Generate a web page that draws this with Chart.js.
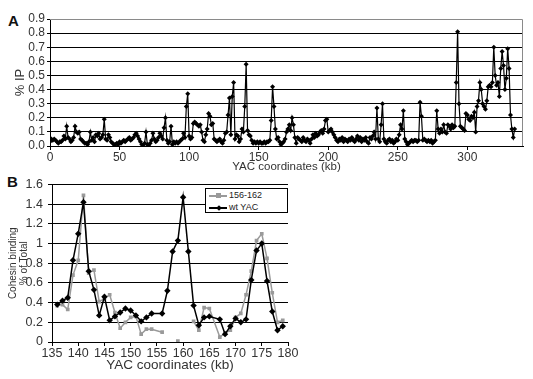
<!DOCTYPE html>
<html>
<head>
<meta charset="utf-8">
<script src="https://cdn.jsdelivr.net/npm/chart.js@4.4.0/dist/chart.umd.min.js"></script>
<style>
  body { margin: 0; background: #fff; width: 533px; height: 379px; position: relative; overflow: hidden; font-family: Arial, "Liberation Sans", sans-serif; }
  canvas { position: absolute; left: 0; }
  .tag { position: absolute; font-weight: bold; font-size: 15px; color: #111; line-height: 16px; }
  #legendB { position: absolute; left: 205px; top: 188px; width: 81px; height: 23px; border: 1px solid #000; background: #fff; font-size: 9px; color: #222; }
  #legendB .row { height: 11px; line-height: 11px; display: flex; align-items: center; margin-top: 1px; }
  #legendB .sample { position: relative; width: 18px; height: 11px; margin: 0 2px 0 3px; }
  #legendB .sample b { position: absolute; left: 0; right: 0; top: 5px; height: 1.5px; }
  #legendB .sample i { position: absolute; left: 7px; top: 3px; width: 5px; height: 5px; }
</style>
</head>
<body>
<div class="tag" style="left:8px;top:13px">A</div>
<div class="tag" style="left:7px;top:174px">B</div>
<canvas id="chartA" width="533" height="175" style="top:0"></canvas>
<canvas id="chartB" width="300" height="207" style="top:172px"></canvas>
<div id="legendB"></div>

<script>
// ---- panel A: % IP along the YAC, one value per kb starting at 0 ----
const kbStartA = 0;
const ipA = [
  0.03,0.05,0.04,0.05,0.04,0.03,0.02,0.03,0.03,0.04,
  0.07,0.05,0.14,0.06,0.05,0.03,0.04,0.06,0.14,0.10,
  0.09,0.10,0.05,0.04,0.03,0.02,0.02,0.01,0.03,0.10,
  0.04,0.06,0.03,0.08,0.07,0.09,0.05,0.06,0.08,0.19,
  0.05,0.04,0.08,0.06,0.03,0.02,0.01,0.01,0.02,0.01,
  0.03,0.02,0.03,0.04,0.03,0.04,0.05,0.06,0.04,0.05,
  0.06,0.08,0.09,0.07,0.05,0.03,0.01,0.00,0.02,0.10,
  0.01,0.00,0.02,0.04,0.09,0.05,0.03,0.04,0.06,0.09,
  0.07,0.05,0.13,0.20,0.04,0.02,0.03,0.14,0.01,0.03,
  0.02,0.03,0.02,0.03,0.04,0.05,0.09,0.06,0.28,0.37,
  0.07,0.05,0.06,0.16,0.17,0.16,0.15,0.14,0.15,0.10,
  0.04,0.03,0.08,0.12,0.23,0.21,0.15,0.16,0.05,0.04,
  0.03,0.04,0.05,0.03,0.02,0.04,0.09,0.10,0.22,0.34,
  0.08,0.35,0.45,0.05,0.08,0.07,0.03,0.05,0.12,0.10,
  0.28,0.58,0.11,0.08,0.07,0.04,0.02,0.03,0.02,0.03,
  0.02,0.03,0.02,0.02,0.03,0.02,0.03,0.03,0.04,0.18,
  0.42,0.28,0.12,0.05,0.06,0.03,0.01,0.02,0.03,0.05,
  0.10,0.12,0.15,0.11,0.20,0.15,0.06,0.02,0.06,0.05,
  0.04,0.03,0.06,0.04,0.03,0.05,0.04,0.02,0.05,0.08,
  0.06,0.09,0.07,0.08,0.10,0.11,0.09,0.12,0.18,0.19,
  0.10,0.11,0.12,0.10,0.08,0.06,0.04,0.03,0.05,0.04,
  0.06,0.03,0.05,0.04,0.03,0.05,0.04,0.06,0.04,0.03,
  0.05,0.07,0.04,0.06,0.03,0.05,0.04,0.06,0.03,0.02,
  0.06,0.05,0.07,0.10,0.05,0.27,0.05,0.03,0.15,0.30,
  0.05,0.03,0.02,0.04,0.05,0.03,0.04,0.02,0.03,0.05,
  0.04,0.08,0.15,0.12,0.25,0.05,0.03,0.01,0.02,0.03,
  0.04,0.03,0.04,0.04,0.03,0.04,0.31,0.21,0.04,0.05,
  0.04,0.03,0.04,0.03,0.04,0.02,0.03,0.04,0.25,0.12,
  0.09,0.12,0.10,0.15,0.10,0.09,0.15,0.14,0.12,0.15,
  0.13,0.14,0.45,0.81,0.30,0.14,0.13,0.12,0.11,0.23,
  0.22,0.19,0.18,0.21,0.20,0.24,0.10,0.28,0.32,0.45,
  0.40,0.30,0.28,0.26,0.32,0.42,0.43,0.42,0.45,0.70,
  0.50,0.43,0.45,0.35,0.55,0.67,0.57,0.40,0.48,0.69,
  0.55,0.22,0.12,0.06,0.12
];

// ---- panel B: cohesin binding, 135-180 kb ----
const kbB = [136,137,138,139,140,141,142,143,144,145,146,147,148,149,150,151,152,153,154,
             156,157,158,159,160,161,162,163,164,165,
             167,168,169,170,171,172,173,174,175,176,177,178,179];
const delName = '156-162';
const delValues = [0.37,0.38,0.33,0.68,0.83,1.49,0.70,0.73,0.41,0.44,0.48,0.30,0.14,0.20,0.25,0.26,0.08,0.13,0.13,
                   0.10,null,null,0.01,null,null,0.21,0.12,0.35,0.34,
                   0.05,0.09,0.12,0.25,0.29,0.48,0.72,1.03,1.10,0.85,0.50,0.20,0.22];
const wtName = 'wt YAC';
const wtValues = [0.38,0.42,0.45,0.83,1.10,1.42,0.72,0.53,0.27,0.46,0.22,0.26,0.30,0.34,0.32,0.27,0.21,0.25,0.29,
                  0.29,0.52,0.92,1.03,1.47,0.92,0.37,0.17,0.25,0.26,
                  0.23,0.08,0.16,0.24,0.20,0.23,0.63,0.93,1.00,0.62,0.31,0.12,0.16];

const FONT = 'Arial, "Liberation Sans", sans-serif';
const TEXT = '#333';
const GRAY = '#9a9a9a';

// gray top/right edge of the plot area in panel A
const frameA = {
    id: 'frameA',
    beforeDatasetsDraw(chart) {
        const a = chart.chartArea, c = chart.ctx;
        c.save();
        c.strokeStyle = '#8a8a8a';
        c.lineWidth = 1;
        c.beginPath();
        c.moveTo(a.left, a.top + 0.5);
        c.lineTo(a.right - 0.5, a.top + 0.5);
        c.lineTo(a.right - 0.5, a.bottom);
        c.stroke();
        c.restore();
    }
};

new Chart(document.getElementById('chartA'), {
    type: 'scatter',
    data: {
        datasets: [{
            data: ipA.map((v, i) => ({ x: kbStartA + i, y: v })),
            showLine: true,
            borderColor: '#000',
            borderWidth: 1.2,
            pointStyle: 'rectRot',
            pointRadius: 2.5,
            backgroundColor: '#000',
            pointBorderWidth: 0
        }]
    },
    options: {
        responsive: false,
        animation: false,
        layout: { padding: { top: 19, right: 10, left: 0, bottom: 0 } },
        plugins: { legend: { display: false }, tooltip: { enabled: false } },
        scales: {
            x: {
                type: 'linear', min: 0, max: 340,
                ticks: { stepSize: 50, includeBounds: false, color: TEXT, font: { family: FONT, size: 12 }, padding: 0, maxRotation: 0 },
                grid: { drawOnChartArea: false, tickLength: 4, color: '#000' },
                border: { color: '#000' },
                title: { display: true, text: 'YAC coordinates (kb)', color: TEXT, font: { family: FONT, size: 11.5 }, padding: { top: 0, bottom: 1 } },
                afterFit: s => { s.height = 29; }
            },
            y: {
                min: 0, max: 0.9,
                ticks: { stepSize: 0.1, autoSkip: false, color: TEXT, font: { family: FONT, size: 12 }, padding: 2, callback: v => v.toFixed(1) },
                grid: { color: c => c.tick.value > 0.85 ? 'rgba(0,0,0,0)' : '#000', tickColor: '#000', tickLength: 3 },
                border: { color: '#000' },
                title: { display: true, text: '% IP', color: TEXT, font: { family: FONT, size: 13 }, padding: { top: 13, bottom: 0 } },
                afterFit: s => { s.width = 50; }
            }
        }
    },
    plugins: [frameA]
});

const chartB = new Chart(document.getElementById('chartB'), {
    type: 'scatter',
    data: {
        datasets: [{
            label: wtName,
            order: 0,
            data: kbB.map((k, i) => ({ x: k, y: wtValues[i] })),
            showLine: true,
            spanGaps: false,
            borderColor: '#000',
            backgroundColor: '#000',
            borderWidth: 1.5,
            pointStyle: 'rectRot',
            pointRadius: 3.2,
            pointBorderWidth: 0
        }, {
            label: delName,
            order: 1,
            data: kbB.map((k, i) => ({ x: k, y: delValues[i] })),
            showLine: true,
            spanGaps: false,
            borderColor: GRAY,
            backgroundColor: GRAY,
            borderWidth: 1.5,
            pointStyle: 'rect',
            pointRadius: 2.6,
            pointBorderWidth: 0
        }]
    },
    options: {
        responsive: false,
        animation: false,
        layout: { padding: { top: 9, right: 12, left: 0, bottom: 0 } },
        plugins: { legend: { display: false }, tooltip: { enabled: false } },
        scales: {
            x: {
                type: 'linear', min: 135, max: 180,
                ticks: { stepSize: 5, color: TEXT, font: { family: FONT, size: 12.5 }, padding: 0, maxRotation: 0 },
                grid: { drawOnChartArea: false, tickLength: 4, color: '#000' },
                border: { color: '#000' },
                title: { display: true, text: 'YAC coordinates (kb)', color: TEXT, font: { family: FONT, size: 13.5 }, padding: { top: 0, bottom: 6 } },
                afterFit: s => { s.height = 37; }
            },
            y: {
                min: 0, max: 1.6,
                ticks: { stepSize: 0.2, color: TEXT, font: { family: FONT, size: 12.5 }, padding: 5, callback: v => String(+v.toFixed(1)) },
                grid: { color: '#000', tickLength: 4 },
                border: { color: '#000' },
                title: { display: true, text: ['Cohesin binding', '% of Total'], color: TEXT, font: { family: FONT, size: 10, lineHeight: '10.5px' }, padding: { top: 8, bottom: 0 } },
                afterFit: s => { s.width = 52; }
            }
        }
    }
});

// legend box inside panel B (gray series listed first, as in the figure)
const legendBox = document.getElementById('legendB');
[chartB.data.datasets[1], chartB.data.datasets[0]].forEach(ds => {
    const row = document.createElement('div');
    row.className = 'row';
    const sample = document.createElement('span');
    sample.className = 'sample';
    const line = document.createElement('b');
    line.style.background = ds.borderColor;
    const mark = document.createElement('i');
    mark.style.background = ds.backgroundColor;
    if (ds.pointStyle === 'rectRot') {
        mark.style.transform = 'rotate(45deg)';
        mark.style.width = '4px';
        mark.style.height = '4px';
        mark.style.left = '7.5px';
        mark.style.top = '3.5px';
    }
    sample.appendChild(line);
    sample.appendChild(mark);
    row.appendChild(sample);
    row.appendChild(document.createTextNode(ds.label));
    legendBox.appendChild(row);
});
</script>
</body>
</html>
